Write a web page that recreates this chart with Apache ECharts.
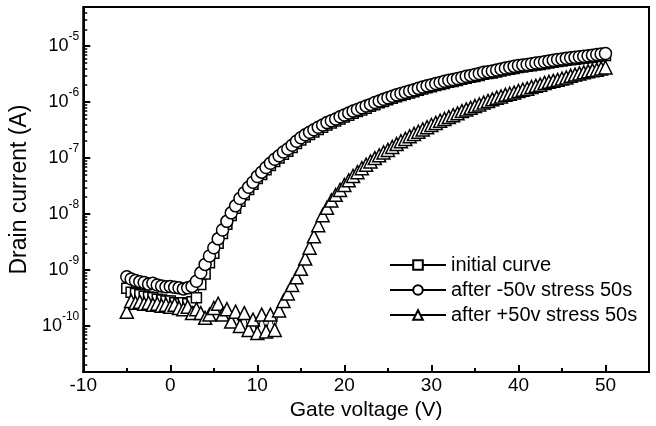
<!DOCTYPE html>
<html><head><meta charset="utf-8">
<script src="https://cdn.jsdelivr.net/npm/echarts@6/dist/echarts.min.js"></script>
<style>html,body{margin:0;padding:0;background:#fff}#c{width:656px;height:426px}</style>
</head><body><div id="c"></div>
<script>
const gateVoltage = [
-5,-4.5,-4,-3.5,-3,-2.5,-2,-1.5,-1,-0.5,
0,0.5,1,1.5,2,2.5,3,3.5,4,4.5,
5,5.5,6,6.5,7,7.5,8,8.5,9,9.5,
10,10.5,11,11.5,12,12.5,13,13.5,14,14.5,
15,15.5,16,16.5,17,17.5,18,18.5,19,19.5,
20,20.5,21,21.5,22,22.5,23,23.5,24,24.5,
25,25.5,26,26.5,27,27.5,28,28.5,29,29.5,
30,30.5,31,31.5,32,32.5,33,33.5,34,34.5,
35,35.5,36,36.5,37,37.5,38,38.5,39,39.5,
40,40.5,41,41.5,42,42.5,43,43.5,44,44.5,
45,45.5,46,46.5,47,47.5,48,48.5,49,49.5,
50];
const initialCurve = [
4.7e-10,4.0e-10,3.8e-10,3.6e-10,3.4e-10,3.3e-10,3.2e-10,3.0e-10,2.9e-10,2.8e-10,
2.8e-10,2.6e-10,2.5e-10,2.6e-10,2.5e-10,2.7e-10,3.2e-10,5.5e-10,8.5e-10,1.35e-9,
2.0e-9,3.0e-9,4.5e-9,6.6e-9,9.4e-9,1.27e-8,1.7e-8,2.2e-8,2.75e-8,3.4e-8,
4.3e-8,5.1e-8,6.2e-8,7.4e-8,8.7e-8,1.0e-7,1.17e-7,1.33e-7,1.55e-7,1.82e-7,
2.1e-7,2.37e-7,2.65e-7,2.92e-7,3.25e-7,3.55e-7,3.9e-7,4.25e-7,4.6e-7,5.0e-7,
5.4e-7,5.85e-7,6.3e-7,6.8e-7,7.25e-7,7.8e-7,8.4e-7,9.0e-7,9.7e-7,1.03e-6,
1.1e-6,1.17e-6,1.24e-6,1.31e-6,1.38e-6,1.46e-6,1.53e-6,1.62e-6,1.71e-6,1.8e-6,
1.88e-6,1.97e-6,2.06e-6,2.16e-6,2.26e-6,2.34e-6,2.43e-6,2.55e-6,2.67e-6,2.77e-6,
2.86e-6,3.0e-6,3.13e-6,3.23e-6,3.32e-6,3.46e-6,3.6e-6,3.73e-6,3.87e-6,4.0e-6,
4.15e-6,4.25e-6,4.35e-6,4.47e-6,4.6e-6,4.7e-6,4.85e-6,5.0e-6,5.15e-6,5.3e-6,
5.45e-6,5.6e-6,5.7e-6,5.8e-6,5.95e-6,6.1e-6,6.2e-6,6.35e-6,6.5e-6,6.65e-6,
6.8e-6];
const afterMinus50 = [
7.6e-10,6.9e-10,6.5e-10,6.2e-10,6.0e-10,5.6e-10,5.8e-10,5.4e-10,5.2e-10,5.0e-10,
5.1e-10,4.9e-10,4.8e-10,4.6e-10,4.8e-10,5.1e-10,6.3e-10,8.9e-10,1.26e-9,1.78e-9,
2.5e-9,3.6e-9,5.2e-9,7.4e-9,1.05e-8,1.4e-8,1.9e-8,2.4e-8,3.0e-8,3.7e-8,
4.7e-8,5.6e-8,6.8e-8,8.1e-8,9.5e-8,1.1e-7,1.28e-7,1.45e-7,1.7e-7,2.0e-7,
2.3e-7,2.6e-7,2.9e-7,3.2e-7,3.55e-7,3.9e-7,4.3e-7,4.65e-7,5.0e-7,5.45e-7,
5.9e-7,6.4e-7,6.9e-7,7.4e-7,7.9e-7,8.5e-7,9.1e-7,9.8e-7,1.05e-6,1.12e-6,
1.2e-6,1.27e-6,1.35e-6,1.42e-6,1.5e-6,1.58e-6,1.66e-6,1.76e-6,1.86e-6,1.95e-6,
2.04e-6,2.14e-6,2.24e-6,2.35e-6,2.45e-6,2.54e-6,2.63e-6,2.76e-6,2.9e-6,3.0e-6,
3.1e-6,3.25e-6,3.4e-6,3.5e-6,3.6e-6,3.75e-6,3.9e-6,4.05e-6,4.2e-6,4.35e-6,
4.5e-6,4.6e-6,4.7e-6,4.85e-6,5.0e-6,5.1e-6,5.25e-6,5.4e-6,5.6e-6,5.75e-6,
5.9e-6,6.05e-6,6.2e-6,6.3e-6,6.45e-6,6.6e-6,6.75e-6,6.9e-6,7.1e-6,7.25e-6,
7.4e-6];
const afterPlus50 = [
1.8e-10,2.8e-10,2.6e-10,2.7e-10,2.5e-10,2.6e-10,2.4e-10,2.5e-10,2.3e-10,2.4e-10,
2.2e-10,2.4e-10,2.1e-10,2.0e-10,2.2e-10,1.7e-10,2.0e-10,1.7e-10,1.4e-10,1.6e-10,
2.1e-10,2.5e-10,1.6e-10,2.0e-10,1.2e-10,1.8e-10,1.0e-10,1.7e-10,8.5e-11,1.3e-10,
7.5e-11,1.6e-10,8.0e-11,1.6e-10,8.5e-11,1.9e-10,2.8e-10,3.8e-10,5.4e-10,7.4e-10,
1.05e-9,1.6e-9,2.5e-9,4.0e-9,6.3e-9,9.5e-9,1.3e-8,1.75e-8,2.2e-8,2.7e-8,
3.3e-8,4.0e-8,4.8e-8,5.6e-8,6.6e-8,7.6e-8,8.7e-8,1.0e-7,1.12e-7,1.26e-7,
1.4e-7,1.58e-7,1.78e-7,2.0e-7,2.2e-7,2.45e-7,2.7e-7,2.95e-7,3.25e-7,3.55e-7,
3.9e-7,4.25e-7,4.65e-7,5.0e-7,5.4e-7,5.85e-7,6.3e-7,6.9e-7,7.4e-7,7.9e-7,
8.5e-7,9.1e-7,9.8e-7,1.05e-6,1.12e-6,1.2e-6,1.26e-6,1.35e-6,1.41e-6,1.48e-6,
1.58e-6,1.66e-6,1.74e-6,1.86e-6,1.95e-6,2.04e-6,2.2e-6,2.3e-6,2.4e-6,2.5e-6,
2.63e-6,2.75e-6,2.95e-6,3.1e-6,3.25e-6,3.4e-6,3.55e-6,3.7e-6,3.8e-6,4.0e-6,
4.15e-6];
const seriesNames = ['initial curve', 'after -50v stress 50s', 'after +50v stress 50s'];
const xMajorTicks = [-10, 0, 10, 20, 30, 40, 50];
const xMinorTicks = [-5, 5, 15, 25, 35, 45];
const yMajorTicks = [1e-10, 1e-9, 1e-8, 1e-7, 1e-6, 1e-5];
const yMinorMultipliers = [2, 3, 4, 5, 6, 7, 8, 9];
const yMin = 1.5e-11, yMax = 5e-5;

const yMinorTicks = [];
for (let e = -11; e <= -5; e++) {
  for (const m of yMinorMultipliers) {
    const v = m * Math.pow(10, e);
    if (v > yMin && v < yMax) yMinorTicks.push(v);
  }
}

const FONT = 'Arial, "Liberation Sans", sans-serif';
const pair = ys => gateVoltage.map((x, i) => [x, ys[i]]);
const mk = (name, ys, symbol, size, z) => ({
  name, type: 'line', data: pair(ys), symbol, symbolSize: size, z,
  showAllSymbol: true,
  lineStyle: { color: '#000', width: 1 },
  itemStyle: { color: '#fff', borderColor: '#000', borderWidth: 1.5 }
});

const chart = echarts.init(document.getElementById('c'), null, { renderer: 'canvas' });
chart.setOption({
  animation: false,
  backgroundColor: '#fff',
  textStyle: { fontFamily: FONT },
  grid: { left: 83, right: 7, top: 7, bottom: 46, show: true, borderColor: '#000', borderWidth: 2, backgroundColor: 'transparent' },
  legend: {
    orient: 'vertical', left: 384, top: 250, itemWidth: 56, itemHeight: 12, itemGap: 5,
    data: seriesNames,
    textStyle: { fontFamily: FONT, fontSize: 20, color: '#000' }
  },
  xAxis: [{
    type: 'value', min: -10, max: 55, interval: 10,
    name: 'Gate voltage (V)', nameLocation: 'middle', nameGap: 23,
    nameTextStyle: { fontFamily: FONT, fontSize: 21, color: '#000' },
    axisLine: { onZero: false, lineStyle: { color: '#000', width: 2 } },
    axisTick: { inside: true, length: 7, lineStyle: { color: '#000', width: 2 }, customValues: xMajorTicks },
    axisLabel: { color: '#000', fontSize: 19, margin: 4, fontFamily: FONT, customValues: xMajorTicks },
    splitLine: { show: false }
  }, {
    type: 'value', min: -10, max: 55, position: 'bottom', gridIndex: 0,
    axisLine: { show: false, onZero: false },
    axisTick: { inside: true, length: 4, lineStyle: { color: '#000', width: 2 }, customValues: xMinorTicks },
    axisLabel: { show: false },
    splitLine: { show: false }
  }],
  yAxis: [{
    type: 'log', min: yMin, max: yMax,
    name: 'Drain current (A)', nameLocation: 'middle', nameGap: 47, nameRotate: 90,
    nameTextStyle: { fontFamily: FONT, fontSize: 23, color: '#000' },
    axisLine: { onZero: false, lineStyle: { color: '#000', width: 2 } },
    axisTick: { inside: true, length: 7, lineStyle: { color: '#000', width: 2 }, customValues: yMajorTicks },
    axisLabel: {
      color: '#000', margin: 4, customValues: yMajorTicks,
      formatter: v => '{b|10}{s|' + Math.round(Math.log10(v)) + '}',
      rich: {
        b: { fontFamily: FONT, fontSize: 18, lineHeight: 30, color: '#000' },
        s: { fontFamily: FONT, fontSize: 12, lineHeight: 12, verticalAlign: 'top', color: '#000' }
      }
    },
    splitLine: { show: false }
  }, {
    type: 'log', min: yMin, max: yMax, position: 'left', gridIndex: 0,
    axisLine: { show: false, onZero: false },
    axisTick: { inside: true, length: 4, lineStyle: { color: '#000', width: 1.5 }, customValues: yMinorTicks },
    axisLabel: { show: false },
    splitLine: { show: false }
  }],
  series: [
    mk(seriesNames[0], initialCurve, 'rect', 10, 2),
    mk(seriesNames[1], afterMinus50, 'circle', 12, 3),
    mk(seriesNames[2], afterPlus50, 'triangle', 13, 4)
  ]
});
</script>
</body></html>
